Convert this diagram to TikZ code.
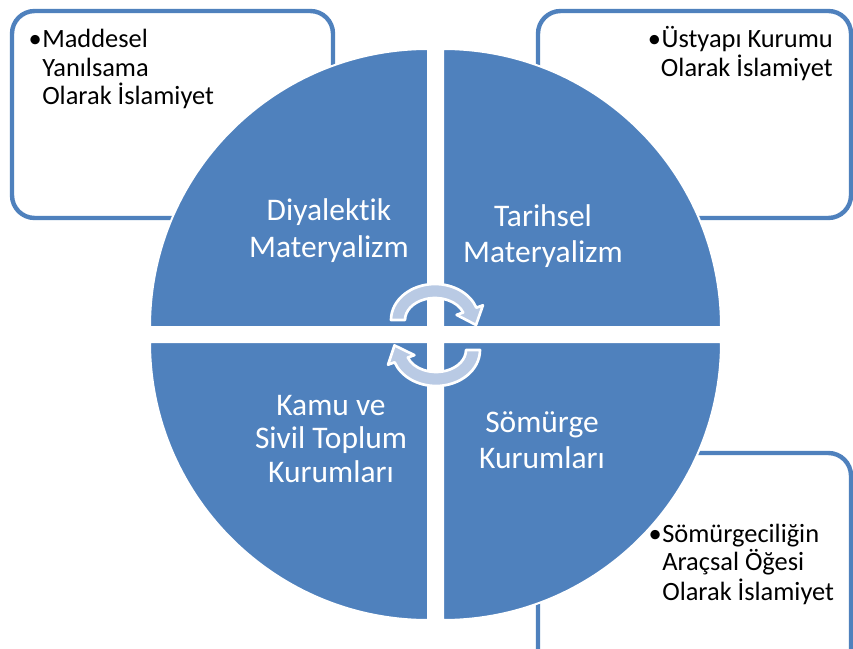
\documentclass[tikz,border=0pt]{standalone}
\usepackage{fontspec}
\setmainfont[Ligatures=NoCommon]{Carlito}
\definecolor{qblue}{RGB}{79,129,189}
\definecolor{arrowfill}{RGB}{185,202,228}
\begin{document}
\begin{tikzpicture}[x=0.75pt,y=-0.75pt,
  quad/.style={fill=qblue,draw=white,line width=1.5pt},
  sidebox/.style={draw=qblue,line width=3.3pt,rounded corners=17pt,fill=white},
  boxtext/.style={font=\fontsize{19.8}{24}\selectfont,text=black,inner sep=0pt},
  quadtext/.style={font=\fontsize{23.6}{28}\selectfont,text=white,inner sep=0pt,anchor=base},
  cyc/.style={fill=arrowfill,draw=white,line width=2pt,line join=round}]
\useasboundingbox (0,0) rectangle (853,649);
\fill[white] (0,0) rectangle (853,649);
% side boxes
\begin{scope}
\clip (0,0) rectangle (853,649);
\draw[sidebox] (12,11) rectangle (333,218);
\draw[sidebox] (538,11) rectangle (851,218);
\draw[sidebox] (538,453) rectangle (851,690);
\end{scope}
% quadrants
\path[quad] (428,327) -- (150,327) arc[start angle=180,end angle=270,radius=278] -- cycle;
\path[quad] (443,327) -- (443,49) arc[start angle=270,end angle=360,radius=278] -- cycle;
\path[quad] (443,342) -- (721,342) arc[start angle=0,end angle=90,radius=278] -- cycle;
\path[quad] (428,342) -- (428,620) arc[start angle=90,end angle=180,radius=278] -- cycle;
% cycle arrows
\begin{scope}[shift={(435,320)}]
\path[cyc] (180:44 and 36) arc[start angle=180,end angle=340,x radius=44,y radius=36]
  -- (340:51 and 43) -- (41,5) -- (340:23 and 15) -- (340:30 and 22)
  arc[start angle=340,end angle=180,x radius=30,y radius=22] -- cycle;
\end{scope}
\begin{scope}[shift={(436,350)}]
\path[cyc] (0:44 and 36) arc[start angle=0,end angle=160,x radius=44,y radius=36]
  -- (160:51 and 43) -- (-41.5,-4.6) -- (160:23 and 15) -- (160:30 and 22)
  arc[start angle=160,end angle=0,x radius=30,y radius=22] -- cycle;
\end{scope}
% box texts
\node[boxtext,anchor=base west] (tl1) at (42,48) {Maddesel};
\node[boxtext,anchor=base east] (tlb) at (tl1.base west) {•};
\node[boxtext,anchor=base west] (tl2) at (42,77) {Yanılsama};
\node[boxtext,anchor=base west] (tl3) at (42,105) {Olarak İslamiyet};
\node[boxtext,anchor=base east] (tr1) at (833,48) {Üstyapı Kurumu};
\node[boxtext,anchor=base east] (trb) at (tr1.base west) {•};
\node[boxtext,anchor=base east] (tr2) at (833,77) {Olarak İslamiyet};
\node[boxtext,anchor=base west] (br1) at (662,542) {Sömürgeciliğin};
\node[boxtext,anchor=base east] (brb) at (br1.base west) {•};
\node[boxtext,anchor=base west] (br2) at (662,570) {Araçsal Öğesi};
\node[boxtext,anchor=base west] (br3) at (662,600) {Olarak İslamiyet};
% quadrant texts
\node[quadtext] (q11) at (329,220) {Diyalektik};
\node[quadtext] (q12) at (329,257) {Materyalizm};
\node[quadtext] (q21) at (543,226) {Tarihsel};
\node[quadtext] (q22) at (543,262) {Materyalizm};
\node[quadtext] (q31) at (331,415) {Kamu ve};
\node[quadtext] (q32) at (331,448) {Sivil Toplum};
\node[quadtext] (q33) at (331,482) {Kurumları};
\node[quadtext] (q41) at (542,432) {Sömürge};
\node[quadtext] (q42) at (542,468) {Kurumları};
\end{tikzpicture}
\end{document}
